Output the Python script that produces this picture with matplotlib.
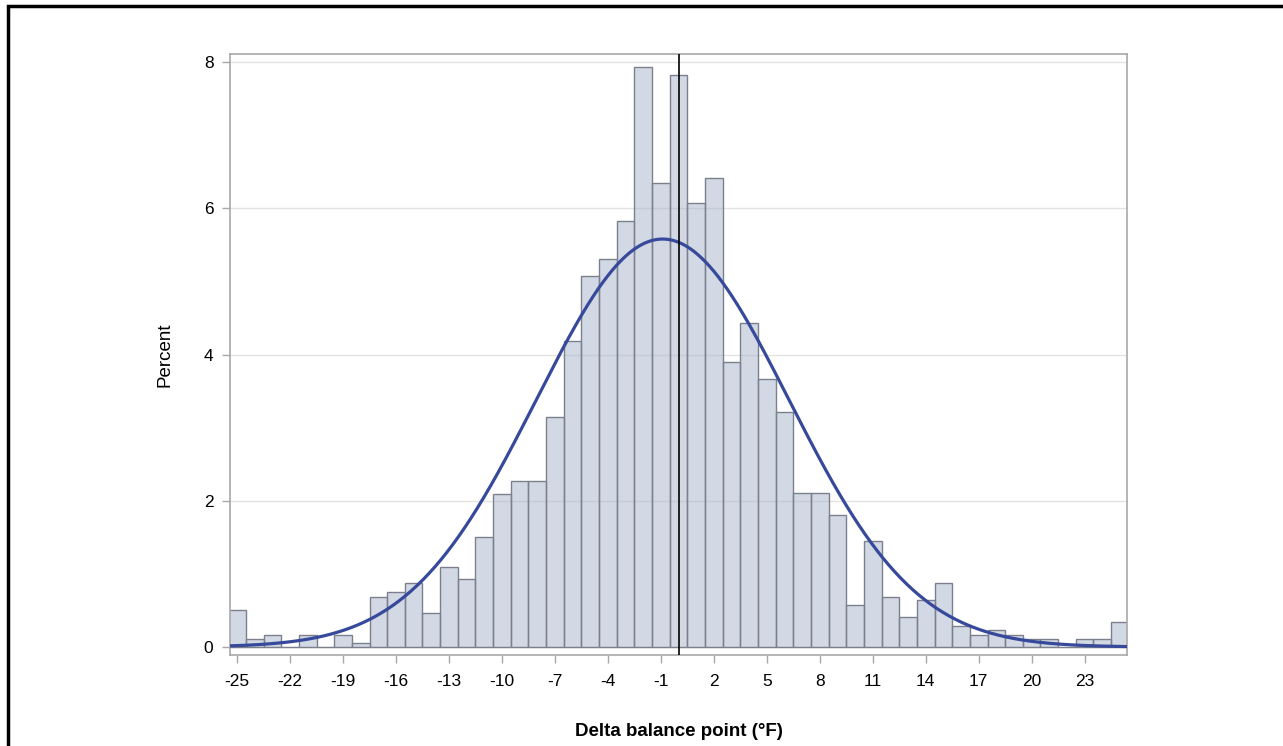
import numpy as np
import matplotlib
matplotlib.use('Agg')
import matplotlib.pyplot as plt
from matplotlib.patches import Rectangle

# histogram bins (1 degF wide, centred on integers) and percent per bin
bin_centers = list(range(-25, 26))
percent = [0.51, 0.11, 0.17, 0.00, 0.17, 0.00, 0.17, 0.05, 0.69, 0.75,
           0.87, 0.46, 1.10, 0.93, 1.51, 2.09, 2.27, 2.27, 3.14, 4.19,
           5.07, 5.30, 5.83, 7.93, 6.35, 7.82, 6.07, 6.41, 3.90, 4.43,
           3.67, 3.21, 2.10, 2.10, 1.80, 0.58, 1.45, 0.69, 0.41, 0.64,
           0.87, 0.29, 0.17, 0.23, 0.17, 0.11, 0.11, 0.00, 0.11, 0.11,
           0.34]
x_ticks = list(range(-25, 24, 3))
y_ticks = [0, 2, 4, 6, 8]

# fitted normal overlay
fit_mean = -0.9
fit_sd = 7.15
ref_line = 0

plt.rcParams['font.family'] = ['Liberation Sans', 'DejaVu Sans']
plt.rcParams['axes.unicode_minus'] = False

fig = plt.figure(figsize=(12.83, 7.46), dpi=100)
ax = fig.add_axes([0.1793, 0.122, 0.6991, 0.8056])

ax.bar(bin_centers, percent, width=1.0, facecolor=(169/255, 179/255, 205/255, 0.5),
       edgecolor='#7c808e', linewidth=1.0, zorder=2)

xs = np.linspace(-25.4, 25.4, 600)
dens = 100.0 / (fit_sd * np.sqrt(2 * np.pi)) * np.exp(-(xs - fit_mean) ** 2 / (2 * fit_sd ** 2))
ax.plot(xs, dens, color='#36499a', lw=2.3, zorder=4)

ax.axvline(ref_line, color='black', lw=1.2, zorder=5)

ax.set_xlim(-25.4, 25.4)
ax.set_ylim(-0.109, 8.11)
ax.set_xticks(x_ticks)
ax.set_yticks(y_ticks)
ax.yaxis.grid(True, color='#e3e3e3', lw=1.0, zorder=0)
ax.set_axisbelow(True)
for s in ax.spines.values():
    s.set_color('#a8a8a8')
    s.set_linewidth(1.2)
ax.tick_params(axis='both', colors='#a8a8a8', labelcolor='black', labelsize=12.5,
               length=6, width=1)
ax.tick_params(axis='y', pad=6)
ax.tick_params(axis='x', pad=8)

ax.set_xlabel('Delta balance point (°F)', fontsize=13.5, fontweight='bold', labelpad=24)
ax.set_ylabel('Percent', fontsize=13.5, labelpad=22)

# outer frame around the figure
fig.patches.append(Rectangle((8 / 1283, -0.05), 1.2, 1.05 - 6 / 746,
                             transform=fig.transFigure, fill=False,
                             edgecolor='black', lw=2.5))

fig.savefig('out.png', dpi=100)
